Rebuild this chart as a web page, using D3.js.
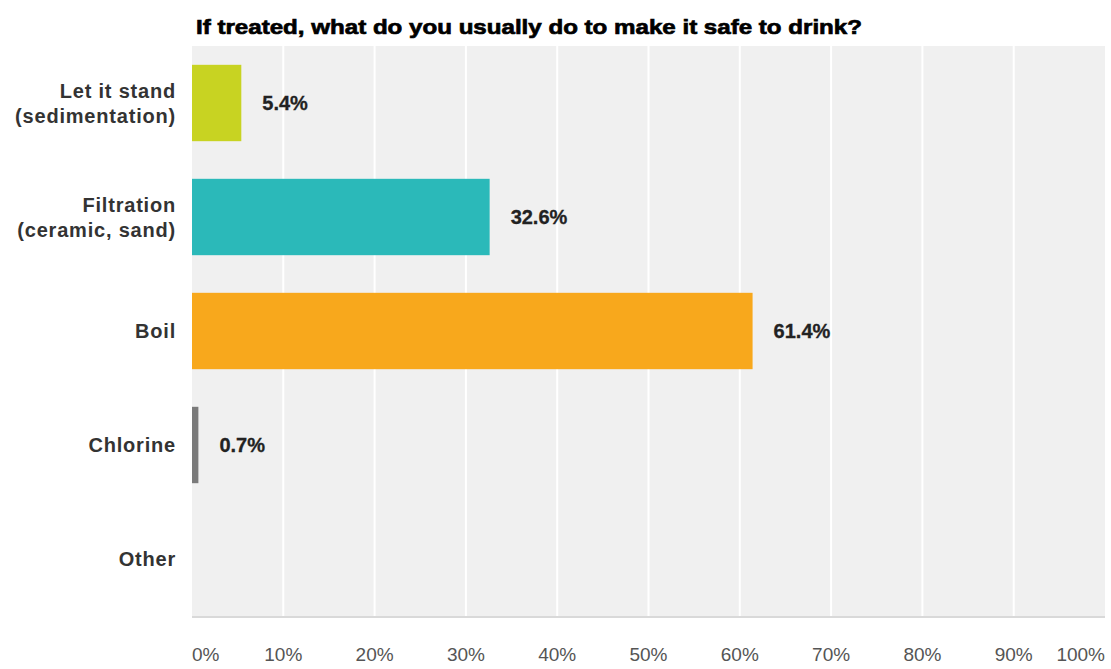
<!DOCTYPE html>
<html>
<head>
<meta charset="utf-8">
<script src="https://cdn.jsdelivr.net/npm/d3@7"></script>
<style>
  html, body { margin: 0; padding: 0; background: #fff; }
  svg { display: block; font-family: "Liberation Sans", Arial, sans-serif; }
</style>
</head>
<body>
<svg id="chart" width="1111" height="669"></svg>
<script>
const title = "If treated, what do you usually do to make it safe to drink?";
const categories = [
  ["Let it stand", "(sedimentation)"],
  ["Filtration", "(ceramic, sand)"],
  ["Boil"],
  ["Chlorine"],
  ["Other"]
];
const values = [5.4, 32.6, 61.4, 0.7, null];
const valueLabels = ["5.4%", "32.6%", "61.4%", "0.7%", ""];
const colors = ["#c8d322", "#2bb9b9", "#f8a81c", "#7a7a7a", "#999999"];
const tickValues = [0, 10, 20, 30, 40, 50, 60, 70, 80, 90, 100];
const tickLabels = ["0%", "10%", "20%", "30%", "40%", "50%", "60%", "70%", "80%", "90%", "100%"];

(function () {
const svg = d3.select("#chart");
const pl = 192, pr = 1105, pt = 46, pb = 616;

const x = d3.scaleLinear().domain([0, 100]).range([pl, pr]);
const ids = categories.map((c, i) => i);
const y = d3.scaleBand().domain(ids).range([pt, pb]).paddingInner(0.33).paddingOuter(0.165);

// background
svg.append("rect").attr("x", pl).attr("y", pt)
  .attr("width", pr - pl).attr("height", pb - pt)
  .attr("fill", "#f0f0f0");

// gridlines
svg.append("g").selectAll("line").data(tickValues.slice(1, -1)).join("line")
  .attr("x1", d => x(d)).attr("x2", d => x(d))
  .attr("y1", pt).attr("y2", pb)
  .attr("stroke", "#ffffff").attr("stroke-width", 2);

// bottom border
svg.append("line").attr("x1", pl).attr("x2", pr)
  .attr("y1", pb + 1).attr("y2", pb + 1)
  .attr("stroke", "#d9d9d9").attr("stroke-width", 2);

// bars
svg.append("g").selectAll("rect").data(ids.filter(i => values[i] != null)).join("rect")
  .attr("x", x(0))
  .attr("y", i => y(i))
  .attr("width", i => x(values[i]) - x(0))
  .attr("height", y.bandwidth())
  .attr("fill", i => colors[i]);

// value labels
svg.append("g").selectAll("text").data(ids.filter(i => values[i] != null)).join("text")
  .attr("x", i => x(values[i]) + 21)
  .attr("y", i => y(i) + y.bandwidth() / 2 + 7)
  .attr("font-size", 20).attr("font-weight", "bold").attr("fill", "#222")
  .attr("stroke", "#222").attr("stroke-width", 0.3)
  .text(i => valueLabels[i]);

// category labels
const cat = svg.append("g").selectAll("text").data(ids).join("text")
  .attr("text-anchor", "end")
  .attr("font-size", 20).attr("font-weight", "bold").attr("fill", "#333")
  .attr("letter-spacing", 0.8);
cat.each(function(i) {
  const lines = categories[i];
  const c = y(i) + y.bandwidth() / 2;
  const t = d3.select(this);
  if (lines.length === 1) {
    t.append("tspan").attr("x", 176).attr("y", c + 7).text(lines[0]);
  } else {
    t.append("tspan").attr("x", 176).attr("y", c - 5).text(lines[0]);
    t.append("tspan").attr("x", 176).attr("y", c + 20).text(lines[1]);
  }
});

// x tick labels
svg.append("g").selectAll("text").data(tickValues).join("text")
  .attr("x", (d, i) => x(d))
  .attr("y", 661)
  .attr("text-anchor", (d, i) => i === 0 ? "start" : (i === tickValues.length - 1 ? "end" : "middle"))
  .attr("font-size", 19).attr("fill", "#555")
  .text((d, i) => tickLabels[i]);

// title
svg.append("text").attr("x", 196).attr("y", 34)
  .attr("font-size", 21).attr("font-weight", "bold").attr("fill", "#000")
  .attr("stroke", "#000").attr("stroke-width", 0.7)
  .attr("textLength", 666).attr("lengthAdjust", "spacingAndGlyphs")
  .text(title);
})();
</script>
</body>
</html>
